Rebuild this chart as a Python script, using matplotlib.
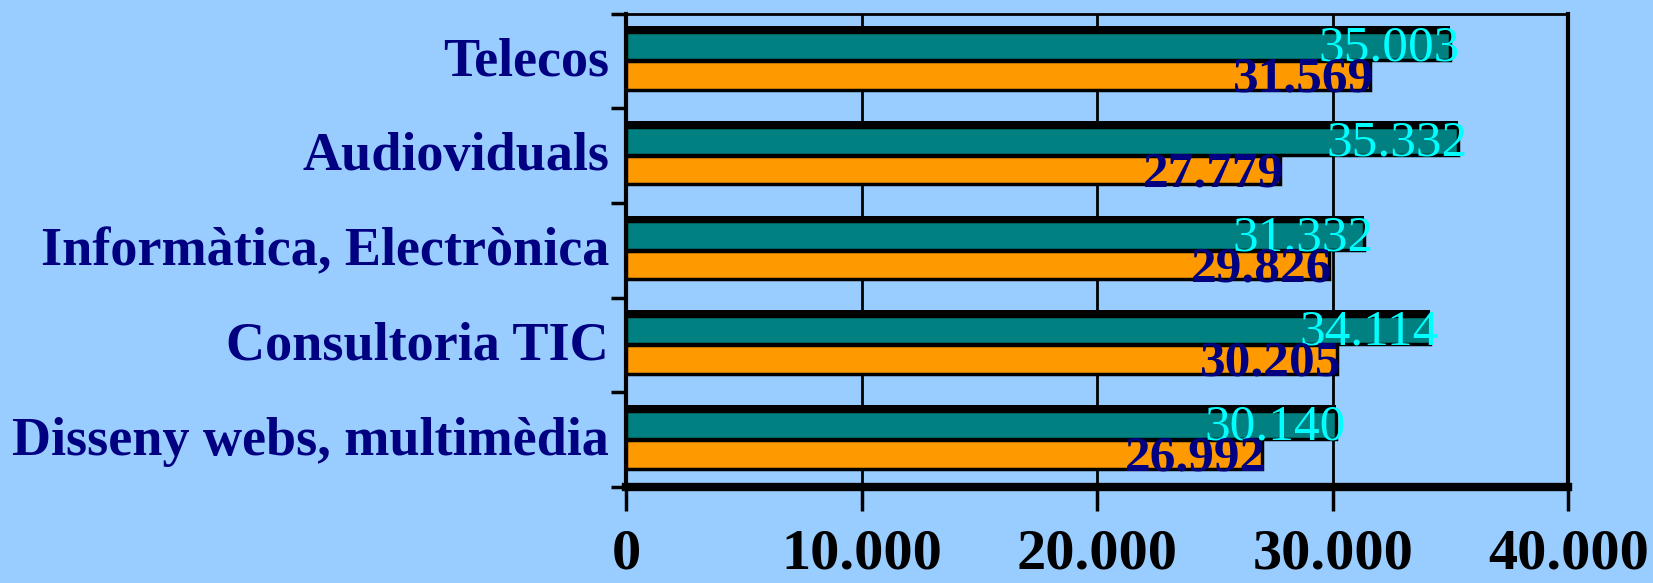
import matplotlib
matplotlib.use("Agg")
import matplotlib.pyplot as plt
import numpy as np

# Data (top to bottom as shown)
categories = [
    "Telecos",
    "Audioviduals",
    "Informàtica, Electrònica",
    "Consultoria TIC",
    "Disseny webs, multimèdia",
]
teal_values = [35003, 35332, 31332, 34114, 30140]
orange_values = [31569, 27779, 29826, 30205, 26992]
xticks = [0, 10000, 20000, 30000, 40000]

BG = "#99CCFF"
TEAL = "#008080"
ORANGE = "#FF9900"
NAVY = "#000080"
CYAN = "#00FFFF"
FONT = "Liberation Serif"


def fmt(v):
    return f"{v:,}".replace(",", ".")


fig = plt.figure(figsize=(16.53, 5.83), dpi=100, facecolor=BG)
ax = fig.add_axes([0.3787, 0.1647, 0.57, 0.812])
ax.set_facecolor(BG)

n = len(categories)
y = np.arange(n)[::-1].astype(float)
h = 0.30

# shadow behind the teal bars (thick black top edge)
ax.barh(y + 0.165 + 0.05, teal_values, height=h, color="black", zorder=2)
ax.barh(y + 0.155, teal_values, height=h, color=TEAL,
        edgecolor="black", linewidth=2.5, zorder=3)
ax.barh(y - 0.155, orange_values, height=h, color=ORANGE,
        edgecolor="black", linewidth=2.5, zorder=3)

for yi, tv, ov in zip(y, teal_values, orange_values):
    ax.annotate(fmt(tv), (tv, yi + 0.13), xytext=(7, 0), textcoords="offset points",
                ha="right", va="center", color=CYAN, fontsize=37,
                family=FONT, zorder=5)
    ax.annotate(fmt(ov), (ov, yi - 0.2), xytext=(3, 0), textcoords="offset points",
                ha="right", va="center", color=NAVY, fontsize=37,
                fontweight="bold", family=FONT, zorder=5)

ax.set_xlim(0, 40000)
ax.set_ylim(-0.5, n - 0.5)

ax.set_xticks(xticks)
ax.set_xticklabels([fmt(t) for t in xticks], family=FONT, fontsize=42,
                   fontweight="bold", color="black")
ax.tick_params(axis="x", direction="out", length=17, width=2.5, pad=13)

# category labels at centers, ticks at boundaries
ax.set_yticks(np.arange(n + 1) - 0.5)
ax.set_yticklabels([])
ax.tick_params(axis="y", direction="out", length=11, width=2.5)
for yi, c in zip(y, categories):
    ax.text(-0.018, yi - 0.02, c, transform=ax.get_yaxis_transform(), ha="right",
            va="center", family=FONT, fontsize=39, fontweight="bold", color=NAVY)

ax.xaxis.grid(True, color="black", linewidth=2, zorder=1)
ax.set_axisbelow(True)

ax.spines["top"].set_linewidth(2)
ax.spines["right"].set_linewidth(3)
ax.spines["left"].set_linewidth(3)
ax.spines["bottom"].set_linewidth(6)

fig.savefig("out.png", dpi=100, facecolor=BG)
